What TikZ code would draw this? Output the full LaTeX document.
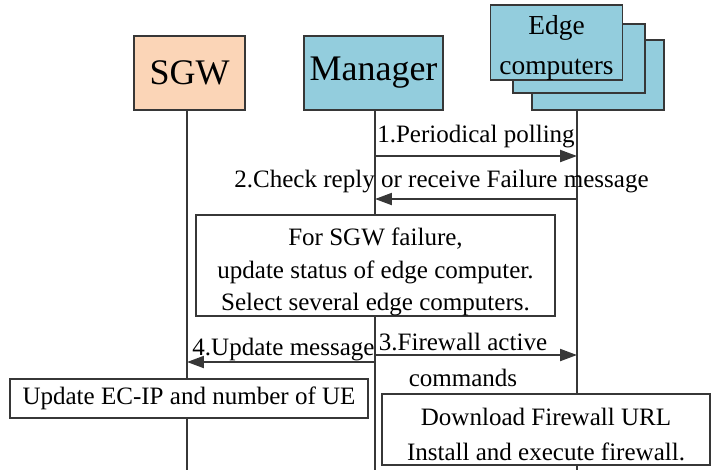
\documentclass[tikz,border=0pt]{standalone}
\usepackage{fontspec}
\setmainfont{Liberation Serif}
\usetikzlibrary{arrows.meta,positioning}

\definecolor{sgwpeach}{RGB}{251,213,183}
\definecolor{ecblue}{RGB}{147,205,221}
\definecolor{linegray}{RGB}{55,55,55}

\begin{document}
\begin{tikzpicture}[x=0.025cm, y=-0.025cm,
  actor/.style={draw=linegray, line width=1.3pt, minimum height=1.85cm,
    inner sep=0pt, font=\fontsize{25.6}{30}\selectfont},
  ecbox/.style={draw=linegray, line width=1.3pt, fill=ecblue,
    minimum width=3.3cm, minimum height=1.73cm, inner sep=0pt},
  lane/.style={draw=linegray, line width=1.3pt},
  msg/.style={draw=linegray, line width=1.4pt,
    -{Triangle[length=12pt,width=8.5pt]}},
  lbl/.style={font=\fontsize{17.8}{21}\selectfont, align=center, inner sep=0pt},
  note/.style={draw=linegray, line width=1.3pt, fill=white,
    font=\fontsize{17.8}{21}\selectfont, align=center, inner sep=0pt}]

  \useasboundingbox (0,0) rectangle (726,470);

  % actors
  \node[actor, fill=sgwpeach, minimum width=2.775cm] (sgw) at (189.5,73) {SGW};
  \node[actor, fill=ecblue, minimum width=3.475cm] (manager) at (373.5,73) {Manager};
  \node[ecbox] (edge3) at (598,75) {};
  \node[ecbox] (edge2) at (579,58.5) {};
  \node[ecbox, lbl, font=\fontsize{19.5}{23}\selectfont] (edge1) at (556.5,42.5)
    {\rule{0pt}{21pt}Edge\\[5pt]computers};

  % lifelines
  \coordinate (sgw-top) at (187,110);
  \coordinate (man-top) at (375,110);
  \coordinate (edge-top) at (577,110);
  \coordinate (sgw-end) at (sgw-top |- 0,470);
  \coordinate (man-end) at (man-top |- 0,470);
  \coordinate (edge-end) at (edge-top |- 0,470);
  \draw[lane] (sgw-top) -- (sgw-end);
  \draw[lane] (man-top) -- (man-end);
  \draw[lane] (edge-top) -- (edge-end);

  % messages
  \coordinate (m1a) at (man-top |- 0,156);
  \coordinate (m1b) at (edge-top |- 0,156);
  \coordinate (m2a) at (edge-top |- 0,199);
  \coordinate (m2b) at (man-top |- 0,199);
  \coordinate (m3a) at (man-top |- 0,355);
  \coordinate (m3b) at (edge-top |- 0,355);
  \coordinate (m4a) at (man-top |- 0,362);
  \coordinate (m4b) at (sgw-top |- 0,362);
  \draw[msg] (m1a) -- (m1b);
  \draw[msg] (m2a) -- (m2b);
  \draw[msg] (m3a) -- (m3b);
  \draw[msg] (m4a) -- (m4b);

  \node[lbl] (l1) at (476,137) {1.Periodical polling};
  \node[lbl] (l2) at (441.5,182) {2.Check reply or receive Failure message};
  \node[lbl] (l3) at (463,360) {3.Firewall active\\[4pt]commands};
  \node[lbl] (l4) at (283.5,350) {4.Update message};

  % notes
  \node[note, minimum width=8.975cm, minimum height=2.425cm] (failnote) at (375.5,265.5)
    {\rule{0pt}{22pt}For SGW failure,\\[2pt]update status of edge computer.\\[2pt]Select several edge computers.};
  \node[note, minimum width=8.95cm, minimum height=0.975cm] (sgwnote) at (189,398.5)
    {Update EC-IP and number of UE};
  \node[note, minimum width=8.2cm, minimum height=1.775cm] (fwnote) at (546,429.5)
    {\rule{0pt}{20pt}Download Firewall URL\\[4pt]Install and execute firewall.};

\end{tikzpicture}
\end{document}
